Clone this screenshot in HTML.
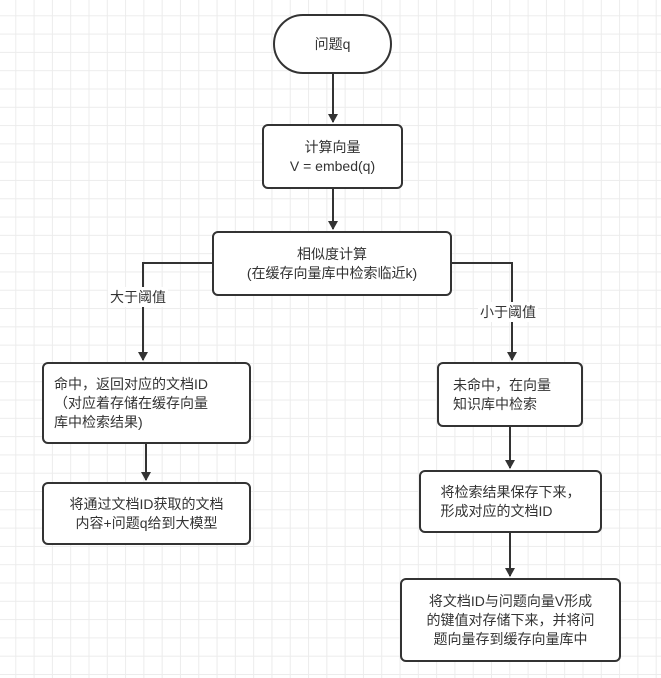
<!DOCTYPE html>
<html><head><meta charset="utf-8"><style>
body{margin:0;width:661px;height:678px;overflow:hidden;background:#fff;
background-image:linear-gradient(#ececec 1px,transparent 1px),linear-gradient(90deg,#ececec 1px,transparent 1px);
background-size:18.3px 18.3px;background-position:-3px -3px;
font-family:"Liberation Sans","Noto Sans CJK SC",sans-serif;font-size:14px;color:#333}
.b{position:absolute;box-sizing:border-box;border:2px solid #333;border-radius:6px;background:#fff;display:flex;align-items:center;justify-content:center;text-align:center;line-height:19px;padding:4px}
.l{position:absolute;font-size:14px;background:#fff;padding:0 2px}
</style></head><body>
<svg width="661" height="678" style="position:absolute;left:0;top:0">
<defs><marker id="a" markerWidth="10" markerHeight="10" refX="8" refY="5" orient="auto" markerUnits="userSpaceOnUse"><path d="M0,0 L9,5 L0,10 Z" fill="#333"/></marker></defs>
<g stroke="#333" stroke-width="2" fill="none">
<path d="M333,74 V122" marker-end="url(#a)"/>
<path d="M333,189 V229" marker-end="url(#a)"/>
<path d="M212,263 H143 V360" marker-end="url(#a)"/>
<path d="M452,263 H512 V360" marker-end="url(#a)"/>
<path d="M146,444 V480" marker-end="url(#a)"/>
<path d="M510,427 V468" marker-end="url(#a)"/>
<path d="M510,533 V576" marker-end="url(#a)"/>
</g></svg>
<div class="b" style="left:273px;top:14px;width:119px;height:60px;border-radius:30px">问题q</div>
<div class="b" style="left:262px;top:124px;width:141px;height:65px">计算向量<br>V = embed(q)</div>
<div class="b" style="left:212px;top:231px;width:240px;height:65px">相似度计算<br>(在缓存向量库中检索临近k)</div>
<div class="l" style="left:108px;top:287px">大于阈值</div>
<div class="l" style="left:478px;top:302px">小于阈值</div>
<div class="b" style="left:42px;top:362px;width:209px;height:82px;text-align:left;justify-content:flex-start;padding-left:10px">命中，返回对应的文档ID<br>（对应着存储在缓存向量<br>库中检索结果)</div>
<div class="b" style="left:42px;top:482px;width:209px;height:63px">将通过文档ID获取的文档<br>内容+问题q给到大模型</div>
<div class="b" style="left:437px;top:362px;width:146px;height:65px;text-align:left;justify-content:flex-start;padding-left:14px">未命中，在向量<br>知识库中检索</div>
<div class="b" style="left:419px;top:470px;width:183px;height:63px;text-align:left">将检索结果保存下来，<br>形成对应的文档ID</div>
<div class="b" style="left:400px;top:578px;width:221px;height:84px">将文档ID与问题向量V形成<br>的键值对存储下来，并将问<br>题向量存到缓存向量库中</div>
</body></html>
